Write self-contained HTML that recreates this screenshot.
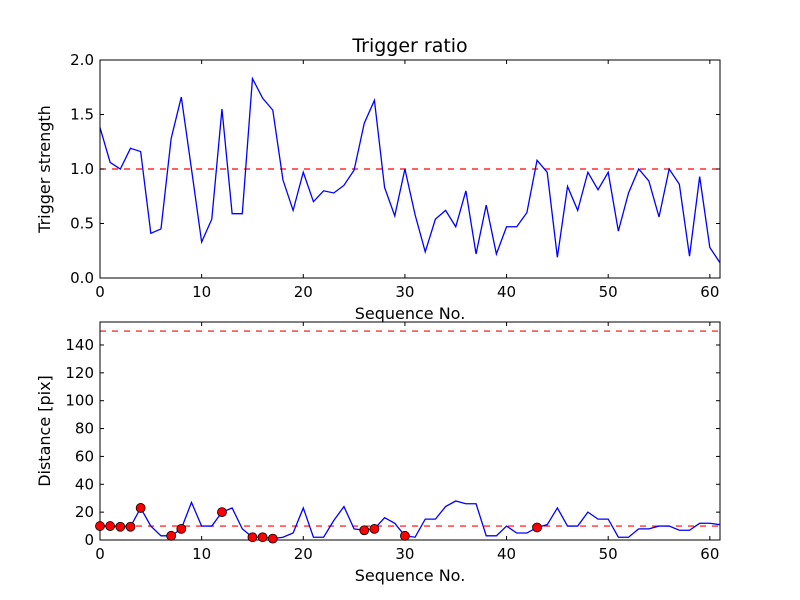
<!DOCTYPE html>
<html><head><meta charset="utf-8"><style>
body{margin:0;background:#fff}
svg{display:block;font-family:"DejaVu Sans","Liberation Sans",sans-serif}
</style></head><body>
<svg id="c" width="800" height="600"></svg>
<script>
const xs=[...Array(62).keys()];
const strength=[1.38,1.06,1.0,1.19,1.16,0.41,0.45,1.28,1.66,1.0,0.33,0.54,1.55,0.59,0.59,1.83,1.65,1.54,0.9,0.62,0.97,0.7,0.8,0.78,0.85,0.99,1.42,1.63,0.83,0.57,1.0,0.58,0.24,0.54,0.62,0.47,0.8,0.22,0.67,0.22,0.47,0.47,0.6,1.08,0.97,0.19,0.84,0.62,0.97,0.81,0.97,0.43,0.78,1.0,0.89,0.56,1.0,0.86,0.2,0.93,0.28,0.14];
const distance=[10,10,9.5,9.5,23,10,3,3,8,27,10,10,20,23,8,2,2,1,2,5,23,2,2,14,24,8,7,8,16,12,3,2,15,15,24,28,26,26,3,3,10,5,5,9,11,23,10,10,20,15,15,2,2,8,8,10,10,7,7,12,12,11];
const markIdx=[0,1,2,3,4,7,8,12,15,16,17,26,27,30,43];
const xTicks=[0,10,20,30,40,50,60];
const yTicksTop=[0.0,0.5,1.0,1.5,2.0];
const yTicksBot=[0,20,40,60,80,100,120,140];
const thrTop=1.0, thrBot=[10,150];

const svg=document.getElementById('c');
const NS='http://www.w3.org/2000/svg';
function mk(t,a,p){const e=document.createElementNS(NS,t);for(const k in a)e.setAttribute(k,a[k]);(p||svg).appendChild(e);return e;}
const L=100,R=720;
const sx=v=>L+(v-0)/61*(R-L);
function panel(top,bot,ymax,vals,ticks,fmt,thr,ylabel,name,title){
  const sy=v=>bot-v/ymax*(bot-top);
  const g=mk('g',{});
  
  
  thr.forEach(t=>{const l=mk('line',{x1:L,x2:R,y1:sy(t),y2:sy(t),stroke:'#ff0000','stroke-width':1.2,'stroke-dasharray':'6,6'},g);
    
    });
  const pl=mk('polyline',{points:vals.map((v,i)=>sx(xs[i])+','+sy(v)).join(' '),fill:'none',stroke:'#0000ff','stroke-width':1.3},g);
  
  
  mk('rect',{x:L,y:top,width:R-L,height:bot-top,fill:'none',stroke:'#000','stroke-width':1},g);
  xTicks.forEach(t=>{const x=sx(t);
    mk('line',{x1:x,x2:x,y1:bot,y2:bot-4,stroke:'#000'},g);mk('line',{x1:x,x2:x,y1:top,y2:top+4,stroke:'#000'},g);
    const tx=mk('text',{x:x,y:bot+19,'text-anchor':'middle','font-size':15},g);tx.textContent=t;
    
    });
  ticks.forEach(t=>{const y=sy(t);
    mk('line',{x1:L,x2:L+4,y1:y,y2:y,stroke:'#000'},g);mk('line',{x1:R,x2:R-4,y1:y,y2:y,stroke:'#000'},g);
    const tx=mk('text',{x:L-6,y:y+5,'text-anchor':'end','font-size':15},g);tx.textContent=fmt(t);
    
    });
  const xl=mk('text',{x:(L+R)/2,y:bot+41,'text-anchor':'middle','font-size':16},g);xl.textContent='Sequence No.';
  
  
  const yl=mk('text',{x:0,y:0,'text-anchor':'middle','font-size':16,transform:`translate(${L-50},${(top+bot)/2}) rotate(-90)`},g);yl.textContent=ylabel;
  
  
  if(title){const tt=mk('text',{x:(L+R)/2,y:top-8,'text-anchor':'middle','font-size':19},g);tt.textContent=title;
    
    }
  return sy;
}
panel(60,278,2.0,strength,yTicksTop,v=>v.toFixed(1),[thrTop],'Trigger strength','trigger-panel','Trigger ratio');
const sy2=panel(322,540,156.5,distance,yTicksBot,v=>v,thrBot,'Distance [pix]','distance-panel',null);
markIdx.forEach(i=>{const c=mk('circle',{cx:sx(xs[i]),cy:sy2(distance[i]),r:4.5,fill:'#ff0000',stroke:'#000','stroke-width':0.8});
  
  });
</script>
</body></html>
